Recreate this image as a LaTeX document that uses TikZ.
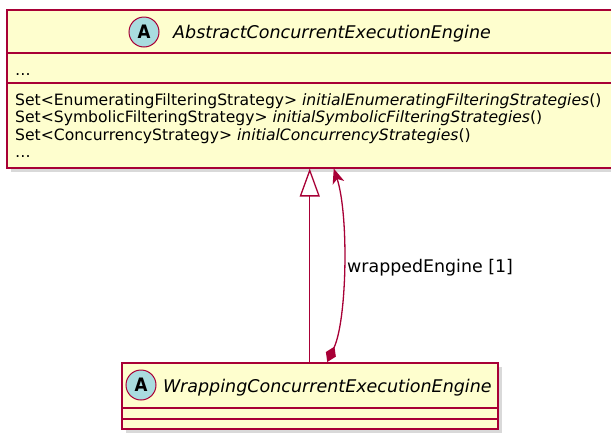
\documentclass[tikz,border=0pt]{standalone}
\usepackage{fontspec}
\setmainfont{DejaVu Sans}
\newfontfamily\circlefont{DejaVu Sans Condensed}
\usetikzlibrary{calc}
\usetikzlibrary{arrows.meta}
\usetikzlibrary{shadows}
\definecolor{umlred}{HTML}{A80036}
\definecolor{umlfill}{HTML}{FEFECE}
\definecolor{umlcirc}{HTML}{A9DCDF}

\begin{document}
\begin{tikzpicture}[x=1pt, y=-1pt,
		classbox/.style={draw=umlred, fill=umlfill, line width=1.5pt, inner sep=0pt, drop shadow={shadow xshift=4pt, shadow yshift=-4pt, opacity=.3}},
		divider/.style={draw=umlred, line width=1.2pt},
		circleA/.style={circle, draw=umlred, fill=umlcirc, line width=1pt, minimum size=30pt, inner sep=0pt, font=\circlefont\fontsize{18.5}{19}\selectfont\bfseries},
		classname/.style={anchor=base west, inner sep=0pt, font=\fontsize{17.5}{20}\selectfont\itshape},
		member/.style={anchor=base west, inner sep=0pt, font=\fontsize{15.6}{17.5}\selectfont},
		umlline/.style={draw=umlred, line width=1.3pt}]
		\useasboundingbox (0,0) rectangle (611,432);

		% abstract class
		\node[classbox, anchor=north west, minimum width=608pt, minimum height=158pt] (abstract) at (6,9) {};
		\draw[divider] ($(abstract.north west)+(0,44)$) -- ($(abstract.north east)+(0,44)$);
		\draw[divider] ($(abstract.north west)+(0,74)$) -- ($(abstract.north east)+(0,74)$);
		\node[circleA] (abstractA) at (144,32) {A};
		\node[classname] (abstractname) at (173,38.5) {AbstractConcurrentExecutionEngine};
		\node[member] (f1) at (15,75) {\dots};
		\node[member] (m1) at (15,105) {Set<EnumeratingFilteringStrategy> \textit{initialEnumeratingFilteringStrategies}()};
		\node[member] (m2) at (15,122.5) {Set<SymbolicFilteringStrategy> \textit{initialSymbolicFilteringStrategies}()};
		\node[member] (m3) at (15,140) {Set<ConcurrencyStrategy> \textit{initialConcurrencyStrategies}()};
		\node[member] (m4) at (15,157.5) {\dots};

		% wrapping class
		\node[classbox, anchor=north west, minimum width=376pt, minimum height=66pt] (wrapping) at (121,362) {};
		\draw[divider] ($(wrapping.north west)+(0,46)$) -- ($(wrapping.north east)+(0,46)$);
		\draw[divider] ($(wrapping.north west)+(0,57)$) -- ($(wrapping.north east)+(0,57)$);
		\node[circleA] (wrappingA) at (141,385) {A};
		\node[classname] (wrappingname) at (163,392) {WrappingConcurrentExecutionEngine};

		% inheritance
		\draw[umlline, -{Triangle[open, length=28pt, width=20pt]}] (wrapping.north) -- (wrapping.north |- abstract.south);

		% composition
		\draw[umlline, {Diamond[length=17pt, width=11pt, fill=umlred]}-{Stealth[length=15pt, width=12pt, inset=4pt, fill=umlred]}]
			($(wrapping.north)+(17.5,0)$) .. controls (347,320) and (349,215) .. ($(wrapping.north |- abstract.south)+(24,0)$);
		\node[anchor=base west, inner sep=0pt, font=\fontsize{17.4}{20}\selectfont] (wrappedlabel) at (347,272.7) {wrappedEngine [1]};
	\end{tikzpicture}
\end{document}
